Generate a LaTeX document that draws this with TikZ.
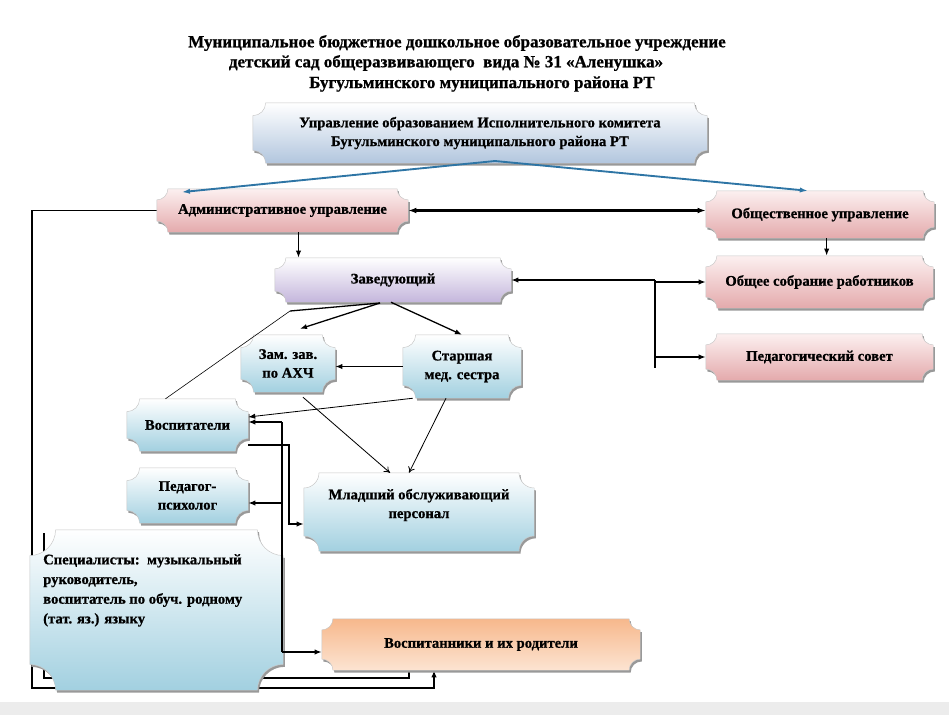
\documentclass[tikz,border=0pt]{standalone}
\usepackage{fontspec}
\setmainfont{Liberation Serif}[BoldFeatures={FakeBold=0.8}]
\usetikzlibrary{arrows.meta,calc}
\pgfdeclarelayer{back}
\pgfdeclarelayer{shapes}
\pgfsetlayers{back,shapes,main}
\definecolor{pinkB}{RGB}{228,170,172}
\definecolor{pinkT}{RGB}{252,240,240}
\definecolor{blueTopB}{RGB}{178,198,222}
\definecolor{lavB}{RGB}{196,182,220}
\definecolor{cyanB}{RGB}{162,208,224}
\definecolor{orT}{RGB}{247,184,140}
\definecolor{orB}{RGB}{252,228,210}
\definecolor{blueArr}{RGB}{46,117,165}
\definecolor{bandGray}{RGB}{236,236,236}

\newcommand\plqpath[2]{let \p1=(#1.south west), \p2=(#1.north east) in (\x1+#2,\y1) -- (\x2-#2,\y1) arc[start angle=180,end angle=90,radius=#2] -- (\x2,\y2-#2) arc[start angle=270,end angle=180,radius=#2] -- (\x1+#2,\y2) arc[start angle=0,end angle=-90,radius=#2] -- (\x1,\y1+#2) arc[start angle=90,end angle=0,radius=#2] -- cycle}
\newcommand\plq[3]{\begin{pgfonlayer}{shapes}
\path[fill=black!40, transform canvas={shift={(1.3pt,-2pt)}}] \plqpath{#1}{#2};
\path[#3, draw=black!22, line width=0.4pt] \plqpath{#1}{#2};
\end{pgfonlayer}}
\newcommand\bx[6]{\node[box, minimum width={(#4-#2)*0.03cm}, minimum height={(#5-#3)*0.03cm}] (#1) at ({(#2+#4)/2},{(#3+#5)/2}) {#6};}

\tikzset{
  box/.style={rectangle, inner sep=0pt, align=center, font=\fontsize{12.5}{16}\selectfont\bfseries},
  title/.style={inner sep=0pt, font=\fontsize{14.5}{17}\selectfont\bfseries},
  conn/.style={draw=black, line width=1.1pt},
  arr/.style={-{Latex[length=6pt,width=4.5pt]}},
  openarr/.style={-{To[length=5pt,width=6pt]}},
  thinline/.style={draw=black, line width=0.7pt},
  bluearr/.style={draw=blueArr, line width=1.6pt, -{Latex[length=7pt,width=4.5pt]}},
  fpink/.style={top color=pinkT, bottom color=pinkB},
  fblue/.style={top color=white, bottom color=blueTopB},
  flav/.style={top color=white, bottom color=lavB},
  fcyan/.style={top color=white, bottom color=cyanB},
  forange/.style={top color=orT, bottom color=orB}
}

\begin{document}
\begin{tikzpicture}[x=0.03cm,y=-0.03cm]
\useasboundingbox (0,0) rectangle (949,715);
\fill[bandGray] (0,702) rectangle (949,715);

% titles
\node[title] (t1) at (457,43) {Муниципальное бюджетное дошкольное образовательное учреждение};
\node[title] (t2) at (446,63) {детский сад общеразвивающего\ \ вида № 31 «Аленушка»};
\node[title] (t3) at (482,84) {Бугульминского муниципального района РТ};

% boxes
\bx{top}{253}{103}{707}{163}{Управление образованием Исполнительного комитета\\Бугульминского муниципального района РТ}
\bx{adm}{157}{189}{408}{232}{Административное управление}
\bx{obsh}{706}{191}{934}{238}{Общественное управление}
\bx{zav}{275}{258}{511}{302}{Заведующий}
\bx{sobr}{706}{256}{933}{308}{Общее собрание работников}
\bx{ped}{706}{334}{933}{380}{Педагогический совет}
\bx{zam}{241}{335}{335}{392}{Зам. зав.\\по АХЧ}
\bx{star}{403}{335}{521}{398}{Старшая\\мед. сестра}
\bx{vosp}{127}{399}{248}{451}{Воспитатели}
\bx{psy}{127}{468}{248}{523}{Педагог-\\психолог}
\bx{mlad}{304}{473}{534}{551}{}
\node[box] (mladt) at (419,505) {Младший обслуживающий\\персонал};
\bx{spec}{30}{530}{283}{690}{}
\node[box, align=left, anchor=north west, font=\fontsize{12.5}{16.8}\selectfont\bfseries] (spect) at (43,554) {Специалисты:\ \ музыкальный\\руководитель,\\воспитатель по обуч. родному\\(тат. яз.) языку};
\bx{vospit}{322}{619}{640}{670}{Воспитанники и их родители}

\plq{top}{11pt}{fblue}
\plq{adm}{9.5pt}{fpink}
\plq{obsh}{9.5pt}{fpink}
\plq{zav}{9.5pt}{flav}
\plq{sobr}{9.5pt}{fpink}
\plq{ped}{9.5pt}{fpink}
\plq{zam}{11pt}{fcyan}
\plq{star}{11pt}{fcyan}
\plq{vosp}{11pt}{fcyan}
\plq{psy}{11pt}{fcyan}
\plq{mlad}{13pt}{fcyan}
\plq{spec}{22pt}{fcyan}
\plq{vospit}{9.5pt}{forange}

% helper coordinates
\coordinate (apex) at (495,161);
\coordinate (o1) at (32,688);
\coordinate (o2) at (434,688);
\coordinate (i0) at (44,533);
\coordinate (i1) at (44,678);
\coordinate (i2) at (409,678);
\coordinate (busT) at (655,280);
\coordinate (busB) at (655,368);
\coordinate (zs) at (380,303);
\coordinate (kink) at (290,311);
\coordinate (bl1) at (282,422);
\coordinate (bl2) at (282,652);
\coordinate (bl3) at (282,503);
\coordinate (m1) at (289,524);

% lines behind the specialists box
\begin{pgfonlayer}{back}
\draw[conn,arr] (adm.west) -| (o1) -- (o2) -- (o2 |- vospit.south);
\draw[conn] (i0) -- (i1) -- (i2) -- (i2 |- vospit.south);
\end{pgfonlayer}

% blue arrows
\draw[bluearr] (apex) -- ([xshift=0.75cm,yshift=-0.1cm]adm.north west);
\draw[bluearr] (apex) -- ([xshift=-0.36cm]obsh.north);

% top level
\draw[conn, line width=2pt, {Latex[length=7pt,width=5pt]}-{Latex[length=7pt,width=5pt]}] (adm.east) -- (adm.east -| obsh.west);
\draw[conn,arr] ([xshift=0.48cm]adm.south) -- ([xshift=0.48cm]adm.south |- zav.north);
\draw[conn,arr] ([xshift=0.2cm]obsh.south) -- ([xshift=0.2cm]obsh.south |- sobr.north);

% right bus
\draw[conn] (busT) -- (busB);
\draw[conn,arr] (zav.east -| busT) -- (zav.east);
\draw[conn,arr] (sobr.west -| busT) -- (sobr.west);
\draw[conn,arr] (ped.west -| busT) -- (ped.west);

% from zav
\draw[conn,arr] (zs) -- ([xshift=0.36cm,yshift=0.18cm]zam.north);
\draw[conn] (zs) -- (kink);
\draw[thinline, line width=0.5pt] (kink) -- ([xshift=-0.66cm]vosp.north);
\draw[conn,arr] ([xshift=-0.06cm]zav.south) -- (star.north);

% middle
\draw[conn,arr] (star.west) -- (star.west -| zam.east);
\draw[thinline,arr] ([xshift=0.3cm]star.south west) -- ([yshift=0.24cm]vosp.east);
\draw[thinline,openarr] ([xshift=0.45cm,yshift=-0.15cm]zam.south) -- ([xshift=-0.87cm]mlad.north);
\draw[thinline,openarr] ([xshift=-0.48cm]star.south) -- ([xshift=-0.3cm]mlad.north);

% left bus
\draw[conn] (bl1) -- (bl2);
\draw[conn,arr] (bl1) -- (bl1 -| vosp.east);
\draw[conn,arr] (bl3) -- (bl3 -| psy.east);
\draw[conn,arr] (bl2) -- (bl2 -| vospit.west);
\draw[conn,arr] ([yshift=-0.6cm]vosp.east) -| (m1) -- (m1 -| mlad.west);
\end{tikzpicture}
\end{document}
